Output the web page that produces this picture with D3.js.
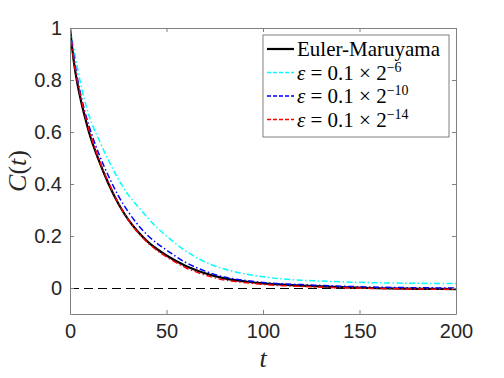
<html>
<head>
<title>C(t) decay</title>
<style>
  body { margin: 0; background: #fff; }
</style>
</head>
<body>
<script src="https://cdn.jsdelivr.net/npm/d3@7"></script>
<script>
// sample times and the curves
var tVals = [0, 2, 4, 6, 8, 10, 15, 20, 25, 30, 35, 40, 45, 50, 60, 70, 80, 90, 100, 110, 120, 140, 160, 180, 200];
var eulerM = [1, 0.87, 0.78, 0.71, 0.65, 0.595, 0.49, 0.40, 0.325, 0.265, 0.218, 0.18, 0.15, 0.125, 0.085, 0.057, 0.037, 0.026, 0.018, 0.013, 0.009, 0.003, -0.001, -0.003, -0.004];
var eps6 = [1, 0.92, 0.84, 0.77, 0.71, 0.66, 0.57, 0.49, 0.42, 0.36, 0.315, 0.272, 0.233, 0.20, 0.142, 0.10, 0.073, 0.055, 0.043, 0.035, 0.03, 0.024, 0.02, 0.018, 0.017];
var eps10 = [1, 0.89, 0.80, 0.73, 0.67, 0.62, 0.515, 0.43, 0.355, 0.295, 0.245, 0.204, 0.172, 0.146, 0.098, 0.065, 0.042, 0.03, 0.021, 0.016, 0.013, 0.007, 0.003, 0.001, 0];
var eps14 = [1, 0.875, 0.79, 0.72, 0.66, 0.605, 0.495, 0.405, 0.328, 0.265, 0.215, 0.176, 0.145, 0.12, 0.078, 0.05, 0.031, 0.021, 0.014, 0.009, 0.006, 0.001, -0.002, -0.004, -0.005];
var xTicks = [0, 50, 100, 150, 200];
var yTicks = [0, 0.2, 0.4, 0.6, 0.8, 1];

var series = [
  { name: "Euler-Maruyama", vals: eulerM, color: "#000000", dash: null, width: 2.2 },
  { name: "6", vals: eps6, color: "#00ffff", dash: "6,2.5,1.5,2.5", width: 1.5 },
  { name: "10", vals: eps10, color: "#0000ff", dash: "6,2.5,1.5,2.5", width: 1.5 },
  { name: "14", vals: eps14, color: "#ff0000", dash: "6,2.5,1.5,2.5", width: 1.5 }
];

var W = 504, H = 378;
var pLeft = 70, pRight = 456, pTop = 28, pBottom = 314;
var axisCol = "#808080", textCol = "#262626";

var svg = d3.select("body").append("svg")
    .attr("width", W).attr("height", H);

var x = d3.scaleLinear().domain([0, 200]).range([pLeft, pRight]);
var y = d3.scaleLinear().domain([-0.1, 1]).range([pBottom, pTop]);

svg.append("defs").append("clipPath").attr("id", "clip")
   .append("rect").attr("x", pLeft).attr("y", pTop)
   .attr("width", pRight - pLeft).attr("height", pBottom - pTop);

// zero reference line
svg.append("line")
   .attr("x1", x(0)).attr("x2", x(200))
   .attr("y1", Math.round(y(0)) + 0.5).attr("y2", Math.round(y(0)) + 0.5)
   .attr("stroke", "#000").attr("stroke-width", 1)
   .attr("stroke-dasharray", "9,5");

var line = d3.line()
    .x(function(d, i){ return x(tVals[i]); })
    .y(function(d){ return y(d); })
    .curve(d3.curveMonotoneX);

var plot = svg.append("g").attr("clip-path", "url(#clip)");
plot.selectAll("path").data(series).enter().append("path")
    .attr("d", function(d){ return line(d.vals); })
    .attr("fill", "none")
    .attr("stroke", function(d){ return d.color; })
    .attr("stroke-width", function(d){ return d.width; })
    .attr("stroke-dasharray", function(d){ return d.dash; });

// axes (box with ticks on all sides, pointing inward)
var tl = 4;
var xb = svg.append("g").attr("transform", "translate(0," + pBottom + ")")
    .call(d3.axisBottom(x).tickValues(xTicks).tickSizeInner(-tl).tickSizeOuter(0).tickPadding(10));
var xt = svg.append("g").attr("transform", "translate(0," + pTop + ")")
    .call(d3.axisTop(x).tickValues(xTicks).tickSizeInner(-tl).tickSizeOuter(0).tickFormat(""));
var yl = svg.append("g").attr("transform", "translate(" + pLeft + ",0)")
    .call(d3.axisLeft(y).tickValues(yTicks).tickSizeInner(-tl).tickSizeOuter(0).tickPadding(8).tickFormat(d3.format("")));
var yr = svg.append("g").attr("transform", "translate(" + pRight + ",0)")
    .call(d3.axisRight(y).tickValues(yTicks).tickSizeInner(-tl).tickSizeOuter(0).tickFormat(""));

[xb, xt, yl, yr].forEach(function(g) {
  g.select(".domain").attr("stroke", axisCol);
  g.selectAll(".tick line").attr("stroke", axisCol);
  g.selectAll(".tick text").attr("fill", textCol)
   .style("font-family", "'Liberation Sans', Arial, sans-serif")
   .style("font-size", "20px");
});

// axis labels
svg.append("text")
   .attr("x", (pLeft + pRight) / 2).attr("y", 367)
   .attr("text-anchor", "middle")
   .style("font-family", "'Liberation Serif', serif").style("font-size", "26px")
   .style("font-style", "italic").attr("fill", textCol)
   .text("t");

var yLab = svg.append("text")
   .attr("transform", "translate(26," + ((pTop + pBottom) / 2) + ") rotate(-90)")
   .attr("text-anchor", "middle")
   .style("font-family", "'Liberation Serif', serif").style("font-size", "26px")
   .attr("fill", textCol);
yLab.append("tspan").style("font-style", "italic").text("C");
yLab.append("tspan").text("(");
yLab.append("tspan").style("font-style", "italic").text("t");
yLab.append("tspan").text(")");

// legend
var lg = svg.append("g");
lg.append("rect")
  .attr("x", 263).attr("y", 35).attr("width", 186).attr("height", 102)
  .attr("fill", "#fff").attr("stroke", axisCol).attr("stroke-width", 1);

var rows = lg.selectAll("g.row").data(series).enter().append("g")
  .attr("class", "row")
  .attr("transform", function(d, i){ return "translate(0," + (56 + i * 23.5) + ")"; });

rows.append("line")
  .attr("x1", 267).attr("x2", 294).attr("y1", -7).attr("y2", -7)
  .attr("stroke", function(d){ return d.color; })
  .attr("stroke-width", function(d){ return d.width; })
  .attr("stroke-dasharray", function(d){ return d.dash ? "4,2" : null; });

var txt = rows.append("text")
  .attr("x", 297).attr("y", 0)
  .style("font-family", "'Liberation Serif', serif").style("font-size", "21px")
  .attr("fill", "#000");

txt.each(function(d, i) {
  var t = d3.select(this);
  if (i === 0) {
    t.text(d.name);
  } else {
    t.append("tspan").style("font-style", "italic").text("\u03b5");
    t.append("tspan").text(" = 0.1 \u00d7 2");
    t.append("tspan").attr("dy", -8).style("font-size", "14px").text("\u2212" + d.name);
  }
});
</script>
</body>
</html>
